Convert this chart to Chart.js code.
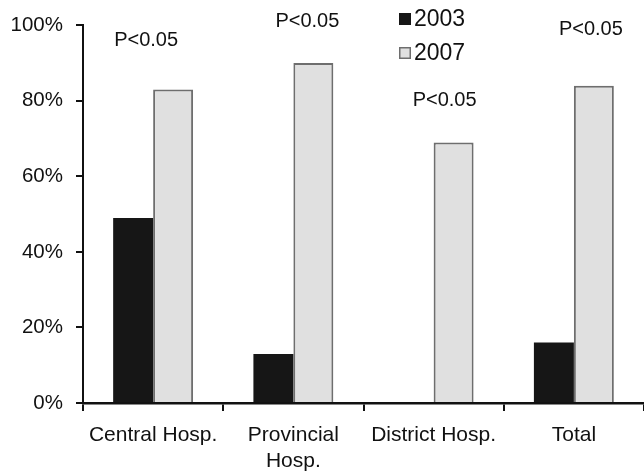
<!DOCTYPE html>
<html>
<head>
<meta charset="utf-8">
<script src="https://cdn.jsdelivr.net/npm/chart.js@4"></script>
<style>
  html, body { margin: 0; padding: 0; background: #fff; }
  #wrap { width: 644px; height: 471px; position: relative; }
</style>
</head>
<body>
<div id="wrap"><canvas id="chart"></canvas></div>
<script>
// categories and series (percent of hospitals)
const categories = ['Central Hosp.', ['Provincial', 'Hosp.'], 'District Hosp.', 'Total'];
const values2003 = [49, 13, 0, 16];
const values2007 = [83, 90, 69, 84];
const yTicks = [0, 20, 40, 60, 80, 100];

// significance labels and the y-level (in %) they sit at
const sigLabels = ['P<0.05', 'P<0.05', 'P<0.05', 'P<0.05'];
const sigLevels = [96, 101, 80, 99];

const FONT = '"Liberation Sans", Arial, sans-serif';

// draws the P-value notes and the little legend at top
const notesPlugin = {
  id: 'notes',
  afterDraw(chart, args, opts) {
    const { ctx, scales: { x, y } } = chart;
    ctx.save();
    ctx.fillStyle = '#111';
    ctx.font = '20px ' + FONT;
    ctx.textAlign = 'center';
    ctx.textBaseline = 'middle';
    sigLabels.forEach((txt, i) => {
      ctx.fillText(txt, x.getPixelForValue(i) + opts.dx[i], y.getPixelForValue(sigLevels[i]));
    });

    // legend
    ctx.textAlign = 'left';
    ctx.font = '23px ' + FONT;
    chart.data.datasets.forEach((ds, i) => {
      const bx = 399, by = 13 + i * 34;
      ctx.fillStyle = ds.backgroundColor;
      ctx.fillRect(bx, by, 12, 12);
      if (ds.borderWidth) {
        ctx.strokeStyle = ds.borderColor;
        ctx.lineWidth = 1.5;
        ctx.strokeRect(bx + 0.75, by + 0.75, 10.5, 10.5);
      }
      ctx.fillStyle = '#111';
      ctx.fillText(ds.label, bx + 15, by + 7);
    });
    ctx.restore();
  },
};

new Chart(document.getElementById('chart'), {
  type: 'bar',
  data: {
    labels: categories,
    datasets: [
      {
        label: '2003',
        data: values2003,
        backgroundColor: '#161616',
        borderWidth: 0,
        categoryPercentage: 0.57,
        barPercentage: 1.0,
      },
      {
        label: '2007',
        data: values2007,
        backgroundColor: '#e0e0e0',
        borderColor: '#6e6e6e',
        borderWidth: 2,
        categoryPercentage: 0.57,
        barPercentage: 1.0,
      },
    ],
  },
  options: {
    responsive: true,
    maintainAspectRatio: false,
    animation: false,
    layout: { padding: { top: 24, right: 0, bottom: 0, left: 0 } },
    scales: {
      x: {
        grid: { display: true, drawOnChartArea: false, drawTicks: true, tickLength: 8, color: '#111', lineWidth: 2, offset: true },
        border: { display: true, color: '#111', width: 2.5 },
        ticks: { color: '#111', font: { family: FONT, size: 21, lineHeight: 1.25 }, padding: 11, maxRotation: 0, autoSkip: false },
        afterFit(scale) { scale.height = 68; },
      },
      y: {
        min: 0,
        max: 100,
        afterBuildTicks(scale) { scale.ticks = yTicks.map(v => ({ value: v })); },
        grid: { display: true, drawOnChartArea: false, drawTicks: true, tickLength: 7, color: '#111', lineWidth: 2 },
        border: { display: true, color: '#111', width: 2 },
        ticks: { color: '#111', font: { family: FONT, size: 20.5 }, padding: 13, callback: v => v + '%' },
        afterFit(scale) { scale.width = 83; },
      },
    },
    plugins: {
      legend: { display: false },
      tooltip: { enabled: false },
      notes: { dx: [-7, 14, 11, 17] },
    },
  },
  plugins: [notesPlugin],
});
</script>
</body>
</html>
